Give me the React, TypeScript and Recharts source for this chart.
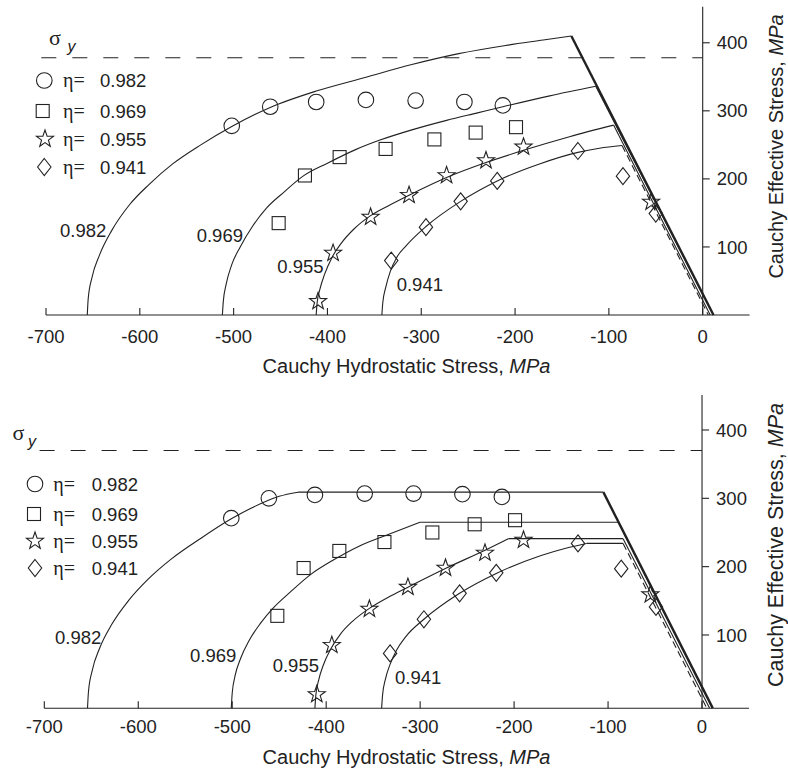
import React from 'react';
import { ComposedChart, Line, Scatter, XAxis, YAxis, ReferenceLine } from 'recharts';

const INK = '#222';
const SANS = '"Liberation Sans", Arial, Helvetica, sans-serif';
const SERIF = '"Liberation Serif", "Times New Roman", serif';

type Pair = [number, number];
const pts = (a: Pair[]) => a.map(([x, y]) => ({ x, y }));

const xTicks = [-700, -600, -500, -400, -300, -200, -100, 0];
const yTicks = [100, 200, 300, 400];
const etaValues = ['0.982', '0.969', '0.955', '0.941'];

// upper panel: yield surfaces
const topArc982: Pair[] = [[-656, 0], [-655, 24], [-651, 55], [-643, 88], [-630, 124], [-611, 162], [-590, 192], [-565, 222], [-535, 250], [-502, 277], [-461, 305], [-412, 329], [-360, 349], [-310, 368], [-260, 384], [-210, 396], [-170, 404], [-140, 410]];
const topArc969: Pair[] = [[-512, 0], [-511, 20], [-508, 45], [-502, 74], [-493, 100], [-480, 130], [-465, 157], [-446, 181], [-426, 204], [-400, 223], [-370, 243], [-344, 257], [-310, 272], [-273, 286], [-240, 297], [-213, 306], [-163, 322], [-114, 336]];
const topArc955: Pair[] = [[-412, 0], [-411, 18], [-408, 38], [-403, 60], [-395, 85], [-385, 106], [-372, 126], [-354, 146], [-333, 162], [-313, 176], [-273, 202], [-231, 224], [-191, 242], [-142, 262], [-95, 279]];
const topArc941: Pair[] = [[-342, 0], [-341, 18], [-338, 40], [-333, 64], [-326, 85], [-316, 102], [-295, 130], [-258, 167], [-219, 197], [-174, 222], [-133, 239], [-110, 245], [-86, 249]];
const topSlant982: Pair[] = [[-140, 410], [11.5, 0]];
const topSlant969: Pair[] = [[-114, 336], [11.5, 0]];
const topSlant955: Pair[] = [[-95, 279], [8, 0]];
const topSlant941: Pair[] = [[-86, 249], [6, 0]];

const topCircles: Pair[] = [[-502, 278], [-461, 306], [-412, 313], [-359, 316], [-306, 315], [-254, 313], [-213, 308]];
const topSquares: Pair[] = [[-452, 135], [-424, 205], [-387, 232], [-338, 244], [-286, 258], [-242, 268], [-199, 276]];
const topStars: Pair[] = [[-410, 20], [-394, 91], [-354, 144], [-313, 176], [-273, 205], [-231, 227], [-191, 247], [-55, 166]];
const topDiamonds: Pair[] = [[-332, 80], [-295, 129], [-258, 167], [-219, 197], [-133, 241], [-85, 204], [-50, 149]];

// lower panel: capped surfaces
const botArc982: Pair[] = [[-654, -7], [-653, 17], [-649, 48], [-641, 81], [-628, 116], [-610, 151], [-590, 181], [-565, 211], [-535, 240], [-501, 270], [-470, 292], [-450, 303], [-430, 309]];
const botArc969: Pair[] = [[-501, -7], [-500, 15], [-497, 40], [-491, 66], [-482, 92], [-470, 117], [-456, 140], [-438, 163], [-416, 189], [-392, 210], [-365, 230], [-336, 246], [-300, 265]];
const botArc955: Pair[] = [[-412, -7], [-411, 12], [-408, 34], [-403, 56], [-395, 80], [-385, 101], [-372, 120], [-354, 139], [-333, 156], [-313, 170], [-272, 198], [-231, 224], [-206, 241]];
const botArc941: Pair[] = [[-341, -7], [-340, 12], [-337, 35], [-332, 57], [-325, 78], [-315, 98], [-296, 123], [-258, 161], [-219, 190], [-172, 216], [-145, 227], [-123, 234]];
const botFlat982: Pair[] = [[-430, 309], [-105, 309]];
const botFlat969: Pair[] = [[-300, 265], [-89, 265]];
const botFlat955: Pair[] = [[-206, 241], [-84, 241]];
const botFlat941: Pair[] = [[-123, 234], [-84, 234]];
const botSlant982: Pair[] = [[-105, 309], [11.4, -7]];
const botSlant969: Pair[] = [[-89, 265], [11.4, -7]];
const botSlant955: Pair[] = [[-84, 241], [8, -7]];
const botSlant941: Pair[] = [[-84, 234], [5, -7]];

const botCircles: Pair[] = [[-501, 271], [-461, 300], [-412, 305], [-359, 307], [-307, 307], [-255, 306], [-213, 302]];
const botSquares: Pair[] = [[-452, 128], [-424, 198], [-386, 223], [-338, 236], [-287, 250], [-242, 262], [-199, 268]];
const botStars: Pair[] = [[-410, 13], [-394, 85], [-354, 138], [-313, 170], [-273, 198], [-231, 220], [-190, 239], [-55, 159]];
const botDiamonds: Pair[] = [[-332, 73], [-296, 123], [-258, 161], [-219, 191], [-132, 234], [-86, 197], [-49, 141]];

type Kind = 'circle' | 'square' | 'star' | 'diamond';

function symbol(kind: Kind, cx: number, cy: number) {
  const common = { fill: 'none', stroke: INK, strokeWidth: 1.1 };
  if (kind === 'circle') return <circle cx={cx} cy={cy} r={7.8} {...common} />;
  if (kind === 'square') return <rect x={cx - 6.5} y={cy - 6.5} width={13} height={13} {...common} />;
  if (kind === 'diamond') return <path d={`M${cx},${cy - 8.5}L${cx + 6.7},${cy}L${cx},${cy + 8.5}L${cx - 6.7},${cy}Z`} {...common} />;
  let d = '';
  for (let i = 0; i < 10; i++) {
    const r = i % 2 === 0 ? 9 : 3.6;
    const a = -Math.PI / 2 + (i * Math.PI) / 5;
    d += `${i === 0 ? 'M' : 'L'}${cx + r * Math.cos(a)},${cy + r * Math.sin(a)}`;
  }
  return <path d={d + 'Z'} {...common} strokeLinejoin="miter" />;
}

const shapeOf = (kind: Kind) => (p: any) => <g>{symbol(kind, p.cx, p.cy)}</g>;

type PanelProps = {
  arcs: Pair[][];
  flats: Pair[][];
  slants: Pair[][];
  marks: { kind: Kind; data: Pair[] }[];
  yDomain: [number, number];
  sigmaY: number;
  margin: { top: number; right: number; bottom: number; left: number };
  tickDy: number;
};

function Panel({ arcs, flats, slants, marks, yDomain, sigmaY, margin, tickDy }: PanelProps) {
  const slantStyle = [
    { w: 2.4, dash: undefined },
    { w: 1.1, dash: undefined },
    { w: 1.1, dash: undefined },
    { w: 1.1, dash: '7 4' },
  ];
  return (
    <ComposedChart width={788} height={386} margin={margin}>
      <XAxis
        type="number"
        dataKey="x"
        domain={[-700, 50]}
        ticks={xTicks}
        interval={0}
        tickLine={false}
        tickSize={0}
        tickMargin={0}
        height={30}
        axisLine={{ stroke: INK, strokeWidth: 1.1 }}
        tick={(p: any) => (
          <g>
            <line x1={p.x} x2={p.x} y1={p.y} y2={p.y - 7} stroke={INK} strokeWidth={1.1} />
            <text x={p.x} y={p.y + tickDy} textAnchor="middle" fill={INK} fontSize={18.5} fontFamily={SANS}>
              {p.payload.value}
            </text>
          </g>
        )}
      />
      <YAxis type="number" dataKey="y" domain={yDomain} hide />
      <ReferenceLine x={0} stroke={INK} strokeWidth={1.1} />
      {yTicks.map((t) => (
        <ReferenceLine
          key={t}
          segment={[{ x: 0, y: t }, { x: 7.5, y: t }]}
          stroke={INK}
          strokeWidth={1.1}
          label={{ value: String(t), position: 'right', offset: 7, fill: INK, fontSize: 18.5, fontFamily: SANS }}
        />
      ))}
      <ReferenceLine
        segment={[{ x: -705, y: sigmaY }, { x: 0, y: sigmaY }]}
        stroke={INK}
        strokeWidth={1.1}
        strokeDasharray="15 16"
        ifOverflow="visible"
      />
      {arcs.map((a, i) => (
        <Line key={'a' + i} data={pts(a)} dataKey="y" type="monotone" stroke={INK} strokeWidth={1.1} dot={false} activeDot={false} legendType="none" isAnimationActive={false} />
      ))}
      {flats.map((a, i) => (
        <Line key={'f' + i} data={pts(a)} dataKey="y" type="linear" stroke={INK} strokeWidth={1.1} dot={false} activeDot={false} legendType="none" isAnimationActive={false} />
      ))}
      {slants.map((a, i) => (
        <Line key={'s' + i} data={pts(a)} dataKey="y" type="linear" stroke={INK} strokeWidth={slantStyle[i].w} strokeDasharray={slantStyle[i].dash} dot={false} activeDot={false} legendType="none" isAnimationActive={false} />
      ))}
      {marks.map((m, i) => (
        <Scatter key={'m' + i} name={etaValues[i]} data={pts(m.data)} dataKey="y" shape={shapeOf(m.kind)} isAnimationActive={false} />
      ))}
    </ComposedChart>
  );
}

const kinds: Kind[] = ['circle', 'square', 'star', 'diamond'];

function Annotations() {
  const txt = { fill: INK, fontFamily: SANS, fontSize: 18.5 };
  const legendTop = { sym: [44.3, 42.7, 45, 44.3], rows: [80.5, 111, 139, 167], eta: 63, num: 100 };
  const legendBot = { sym: [35, 34, 35, 35], rows: [484, 514, 541, 568], eta: 53.3, num: 91.7 };
  const curveTop = [[60, 236.5], [196.7, 242.3], [277.3, 273.3], [396.7, 290.6]];
  const curveBot = [[55, 644.3], [190, 661.6], [272.7, 671.6], [395, 684.3]];
  const legend = (L: typeof legendTop) =>
    kinds.map((k, i) => (
      <g key={k}>
        {symbol(k, L.sym[i], L.rows[i])}
        <text x={L.eta} y={L.rows[i] + 6.6} fill={INK} fontFamily={SERIF} fontSize={20}>η=</text>
        <text x={L.num} y={L.rows[i] + 6.6} {...txt}>{etaValues[i]}</text>
      </g>
    ));
  return (
    <svg width={788} height={772} style={{ position: 'absolute', left: 0, top: 0, pointerEvents: 'none' }}>
      {legend(legendTop)}
      {legend(legendBot)}
      {curveTop.map(([x, y], i) => <text key={'ct' + i} x={x} y={y} {...txt}>{etaValues[i]}</text>)}
      {curveBot.map(([x, y], i) => <text key={'cb' + i} x={x} y={y} {...txt}>{etaValues[i]}</text>)}
      <text x={49} y={45} fill={INK} fontFamily={SERIF} fontSize={22}>σ</text>
      <text x={67.5} y={52} fill={INK} fontFamily={SANS} fontSize={16} fontStyle="italic">y</text>
      <text x={12.5} y={440} fill={INK} fontFamily={SERIF} fontSize={22}>σ</text>
      <text x={28} y={447} fill={INK} fontFamily={SANS} fontSize={16} fontStyle="italic">y</text>
      <text x={406.5} y={373} textAnchor="middle" fill={INK} fontFamily={SANS} fontSize={20}>
        Cauchy Hydrostatic Stress, <tspan fontStyle="italic">MPa</tspan>
      </text>
      <text x={406.5} y={763.5} textAnchor="middle" fill={INK} fontFamily={SANS} fontSize={20}>
        Cauchy Hydrostatic Stress, <tspan fontStyle="italic">MPa</tspan>
      </text>
      <text transform="translate(783.3,146.5) rotate(-90)" textAnchor="middle" fill={INK} fontFamily={SANS} fontSize={20}>
        Cauchy Effective Stress, <tspan fontStyle="italic">MPa</tspan>
      </text>
      <text transform="translate(783.3,545) rotate(-90)" textAnchor="middle" fill={INK} fontFamily={SANS} fontSize={21.5}>
        Cauchy Effective Stress, <tspan fontStyle="italic">MPa</tspan>
      </text>
    </svg>
  );
}

export default function App() {
  return (
    <div style={{ position: 'absolute', left: 0, top: 0, width: 788, height: 772, background: '#fff', overflow: 'hidden' }}>
      <div style={{ position: 'absolute', left: 0, top: 0 }}>
        <Panel
          arcs={[topArc982, topArc969, topArc955, topArc941]}
          flats={[]}
          slants={[topSlant982, topSlant969, topSlant955, topSlant941]}
          marks={[
            { kind: 'circle', data: topCircles },
            { kind: 'square', data: topSquares },
            { kind: 'star', data: topStars },
            { kind: 'diamond', data: topDiamonds },
          ]}
          yDomain={[0, 453]}
          sigmaY={378}
          margin={{ top: 6.7, right: 38.4, bottom: 41, left: 46 }}
          tickDy={28.3}
        />
      </div>
      <div style={{ position: 'absolute', left: 0, top: 386 }}>
        <Panel
          arcs={[botArc982, botArc969, botArc955, botArc941]}
          flats={[botFlat982, botFlat969, botFlat955, botFlat941]}
          slants={[botSlant982, botSlant969, botSlant955, botSlant941]}
          marks={[
            { kind: 'circle', data: botCircles },
            { kind: 'square', data: botSquares },
            { kind: 'star', data: botStars },
            { kind: 'diamond', data: botDiamonds },
          ]}
          yDomain={[-7.3, 451.2]}
          sigmaY={370}
          margin={{ top: 9, right: 39, bottom: 33.7, left: 44.3 }}
          tickDy={25}
        />
      </div>
      <Annotations />
    </div>
  );
}
